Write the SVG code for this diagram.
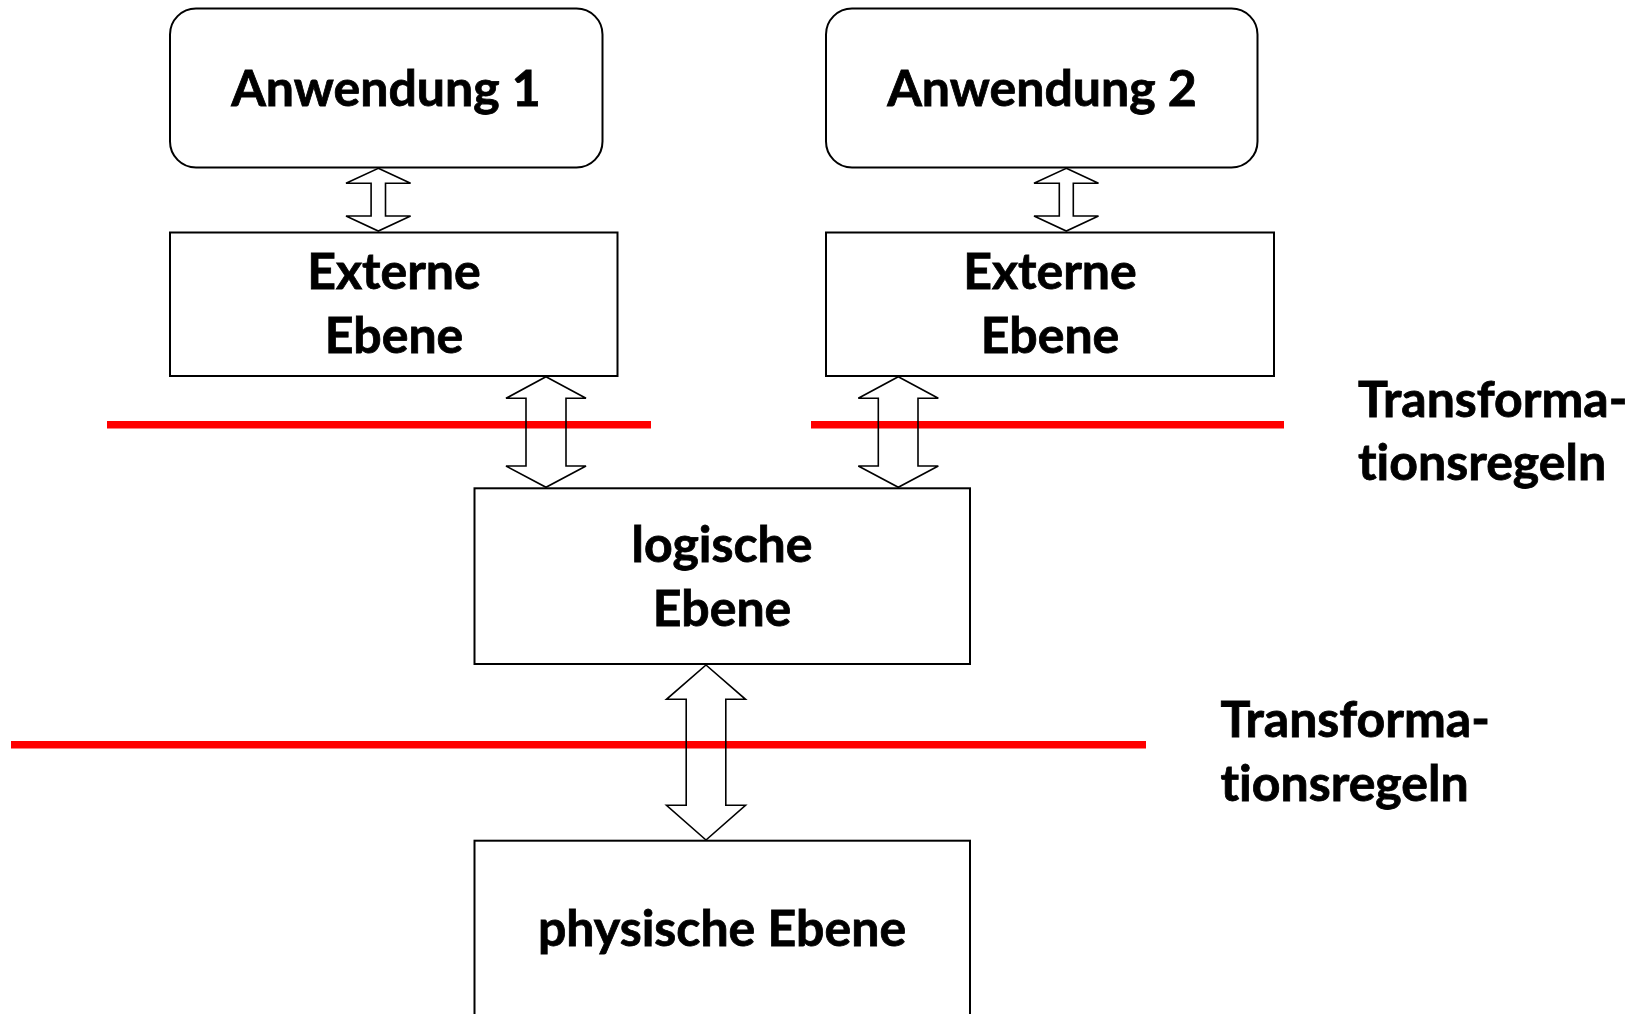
<svg xmlns="http://www.w3.org/2000/svg" width="1640" height="1014" viewBox="0 0 1640 1014">
  <style>
    .box { fill: #ffffff; stroke: #000000; stroke-width: 2; }
    .lbl { font-family: Lato, "Open Sans", "Liberation Sans", sans-serif; font-weight: bold; font-size: 50px; fill: #000000; stroke: #000000; stroke-width: 0.8; text-anchor: middle; font-variant-ligatures: none; }
    .note { font-family: Lato, "Open Sans", "Liberation Sans", sans-serif; font-weight: bold; font-size: 50px; fill: #000000; stroke: #000000; stroke-width: 0.8; font-variant-ligatures: none; }
    .rule { stroke: #ff0000; stroke-width: 7.5; }
    .dbl { fill: none; stroke: #000000; stroke-width: 1.6; stroke-linejoin: miter; }
  </style>
  <rect width="1640" height="1014" fill="#ffffff"/>

  <!-- red boundaries between levels -->
  <g id="boundaries">
    <line class="rule" x1="107" y1="424.7" x2="651" y2="424.7"/>
    <line class="rule" x1="811" y1="424.7" x2="1284" y2="424.7"/>
    <line class="rule" x1="11" y1="744.7" x2="1146" y2="744.7"/>
  </g>

  <g id="app1">
    <rect class="box" x="170" y="8.5" width="432.5" height="159" rx="26" ry="26"/>
    <text class="lbl" x="386" y="106">Anwendung 1</text>
  </g>
  <g id="app2">
    <rect class="box" x="826" y="8.5" width="431.5" height="159" rx="26" ry="26"/>
    <text class="lbl" x="1042" y="106">Anwendung 2</text>
  </g>
  <g id="ext1">
    <rect class="box" x="170" y="232.5" width="447.5" height="143.5"/>
    <text class="lbl" x="394" y="289.3">Externe</text>
    <text class="lbl" x="394" y="353.3">Ebene</text>
  </g>
  <g id="ext2">
    <rect class="box" x="826" y="232.5" width="448" height="143.5"/>
    <text class="lbl" x="1050" y="289.3">Externe</text>
    <text class="lbl" x="1050" y="353.3">Ebene</text>
  </g>
  <g id="logical">
    <rect class="box" x="474.5" y="488.3" width="495.5" height="175.7"/>
    <text class="lbl" x="722" y="561.7">logische</text>
    <text class="lbl" x="722" y="625.7">Ebene</text>
  </g>
  <g id="physical">
    <rect class="box" x="474.5" y="840.7" width="495.5" height="190"/>
    <text class="lbl" x="722" y="946">physische Ebene</text>
  </g>

  <g id="rules-upper">
    <text class="note" x="1358" y="416.7">Transforma-</text>
    <text class="note" x="1358" y="480">tionsregeln</text>
  </g>
  <g id="rules-lower">
    <text class="note" x="1220.5" y="737.3">Transforma-</text>
    <text class="note" x="1220.5" y="800.7">tionsregeln</text>
  </g>

  <!-- double-headed block arrows -->
  <g id="connectors">
    <polygon class="dbl" points="378.3,168.3 410.6,183.3 385.5,183.3 385.5,216 410.6,216 378.3,231 346,216 371.1,216 371.1,183.3 346,183.3"/>
    <polygon class="dbl" points="1066.3,168.3 1098.5,183.3 1073.3,183.3 1073.3,216 1098.5,216 1066.3,231 1034,216 1059.3,216 1059.3,183.3 1034,183.3"/>
    <polygon class="dbl" points="546,376.7 586,398.3 566,398.3 566,466 586,466 546,487.3 506,466 526,466 526,398.3 506,398.3"/>
    <polygon class="dbl" points="898.3,376.7 938.3,398.3 918,398.3 918,466 938.3,466 898.3,487.3 858.3,466 878.3,466 878.3,398.3 858.3,398.3"/>
    <polygon class="dbl" points="706,665 745.5,699.3 725.8,699.3 725.8,805.3 745.5,805.3 706,840 666.5,805.3 686.2,805.3 686.2,699.3 666.5,699.3"/>
  </g>
</svg>
